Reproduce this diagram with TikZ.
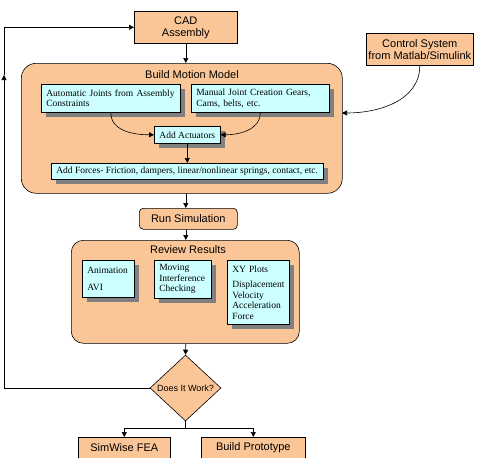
\documentclass[tikz,border=0pt]{standalone}
\usepackage{fontspec}
\setmainfont{Liberation Serif}
\setsansfont{Liberation Sans}
\usetikzlibrary{arrows.meta,shapes.geometric,shadows}
\definecolor{peach}{HTML}{FBC697}
\definecolor{paleblue}{HTML}{CCFFFF}
\definecolor{shade}{HTML}{808080}
\tikzset{
	orangebox/.style={draw, fill=peach, line width=0.6pt, inner sep=0pt, anchor=north west, align=center, font=\sffamily\fontsize{11}{12}\selectfont},
	cyanbox/.style={draw, fill=paleblue, line width=0.6pt, inner xsep=5pt, inner ysep=0pt, anchor=north west, align=left, font=\fontsize{9.5}{10.5}\selectfont, drop shadow={shadow xshift=5pt, shadow yshift=-5pt, fill=shade, opacity=1}},
	groupbox/.style={draw, fill=peach, line width=0.6pt, inner sep=0pt, anchor=north west},
	grouptitle/.style={font=\sffamily\fontsize{11}{12}\selectfont},
	flow/.style={-{Triangle[length=5pt,width=5pt]}, line width=0.6pt},
}

\begin{document}
\begin{tikzpicture}[x=1pt, y=-1pt]
		%%%%% START %%%%%
		\useasboundingbox (0, 0) rectangle (480, 458);
		
		\node[orangebox, minimum width=103pt, minimum height=32pt] (cad) at (134, 11) {CAD\\Assembly};
		\node[orangebox, minimum width=107pt, minimum height=32pt] (ctrl) at (366, 33) {Control System\\from Matlab/Simulink};
		
		% build motion model
		\node[groupbox, rounded corners=15pt, minimum width=321pt, minimum height=130pt] (bmm) at (21, 63) {};
		\node[grouptitle] (bmmtitle) at (192, 75) {Build Motion Model};
		\node[cyanbox, text width=129pt, minimum height=28pt] (auto) at (41, 84) {Automatic Joints from Assembly\\Constraints};
		\node[cyanbox, text width=128pt, minimum height=28pt] (manual) at (191, 84) {Manual Joint Creation Gears,\\Cams, belts, etc.};
		\node[cyanbox, minimum width=66pt, minimum height=17pt, align=center] (act) at (154, 126) {Add Actuators};
		\node[cyanbox, minimum width=271pt, minimum height=16pt, align=center] (forces) at (51, 163) {Add Forces- Friction, dampers, linear/nonlinear springs, contact, etc.};
		
		\node[orangebox, rounded corners=4pt, minimum width=98pt, minimum height=21pt] (run) at (139, 208) {Run Simulation};
		
		% review results
		\node[groupbox, rounded corners=12pt, minimum width=228pt, minimum height=103pt] (review) at (71, 240) {};
		\node[grouptitle] (reviewtitle) at (188, 250) {Review Results};
		\node[cyanbox, text width=42pt, minimum height=37pt] (anim) at (82, 260) {Animation\\[6pt]AVI};
		\node[cyanbox, text width=47pt, minimum height=38pt] (moving) at (154, 260) {Moving\\Interference\\Checking};
		\node[cyanbox, text width=52pt, minimum height=64pt] (xy) at (227, 260) {XY Plots\\[5pt]Displacement\\Velocity\\Acceleration\\Force};
		
		\node[draw, fill=peach, diamond, aspect=1.08, minimum width=71pt, minimum height=66pt, inner sep=0pt, line width=0.6pt, font=\sffamily\fontsize{9}{10}\selectfont] (work) at (185.5, 388) {Does It Work?};
		
		\node[orangebox, minimum width=92pt, minimum height=21pt] (fea) at (78, 437) {SimWise FEA};
		\node[orangebox, minimum width=104pt, minimum height=21pt] (proto) at (201, 437) {Build Prototype};
		
		% connectors
		\coordinate (ctrlin) at (342, 113);
		\coordinate (loopup) at (4, 75);
		\coordinate (split) at (185.5, 428);
		
		\draw[flow] (cad.south) -- (cad.south |- bmm.north);
		\draw[flow] (auto.south) to[out=-90, in=180] (act.west);
		\draw[flow] (manual.south) to[out=-90, in=0] (act.east);
		\draw[flow] (act.south) -- (act.south |- forces.north);
		\draw[flow] (ctrl.south) to[out=-90, in=0] (ctrlin);
		\draw[flow] (cad.south |- bmm.south) -- (cad.south |- run.north);
		\draw[flow] (cad.south |- run.south) -- (cad.south |- review.north);
		\draw[flow] (cad.south |- review.south) -- (work.north);
		
		\draw[flow] (work.west) -| (loopup);
		\draw[flow] (loopup) |- (cad.west);
		
		\draw[line width=0.6pt] (work.south) -- (split);
		\draw[flow] (split) -| (fea.north);
		\draw[flow] (split) -| (proto.north);
		
		%%%%% END %%%%%
\end{tikzpicture}
\end{document}
